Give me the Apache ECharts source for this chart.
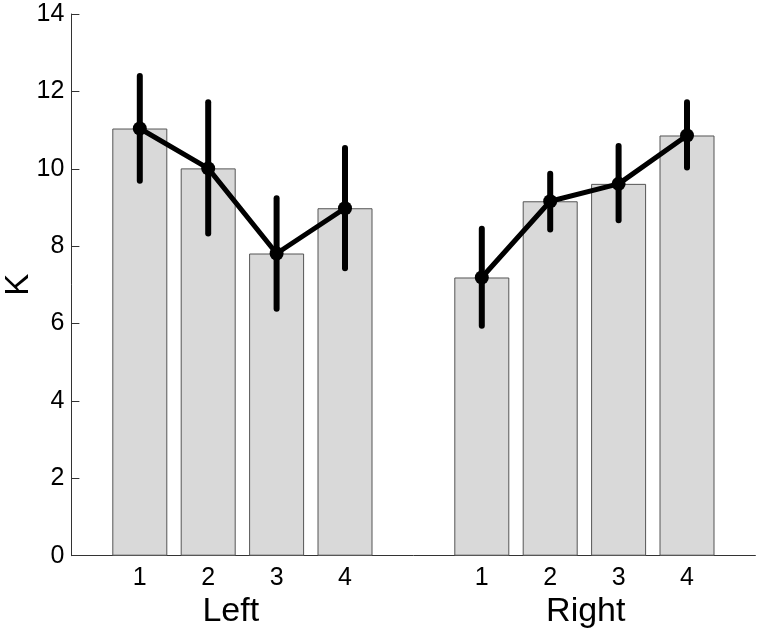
<!DOCTYPE html>
<html><head><meta charset="utf-8">
<script src="https://cdn.jsdelivr.net/npm/echarts@6/dist/echarts.min.js"></script>
<style>html,body{margin:0;padding:0;background:#fff}#c{width:762px;height:635px}</style>
</head><body><div id="c"></div>
<script>
// Positions on the x value axis (gap at 5 between groups)
const positions = [1, 2, 3, 4, 6, 7, 8, 9];
const tickLabels = ['1', '2', '3', '4', '1', '2', '3', '4'];
const groupLabels = ['Left', 'Right'];
const groupCenters = [2.33, 7.52];
const meanValues = [11.04, 10.01, 7.81, 8.98, 7.19, 9.16, 9.61, 10.86];
const errLow = [9.69, 8.33, 6.38, 7.43, 5.94, 8.43, 8.67, 10.03];
const errHigh = [12.40, 11.72, 9.24, 10.54, 8.45, 9.87, 10.59, 11.72];
const yTicks = [0, 2, 4, 6, 8, 10, 12, 14];

const barData = positions.map((p, i) => [p, meanValues[i]]);
const errData = positions.map((p, i) => [p, errLow[i], errHigh[i]]);
const leftLine = barData.slice(0, 4);
const rightLine = barData.slice(4);
const groupData = groupCenters.map((c, i) => [c, 0, groupLabels[i]]);

const FONT = 'Liberation Sans, Arial, Helvetica, sans-serif';
const chart = echarts.init(document.getElementById('c'));
chart.setOption({
  animation: false,
  backgroundColor: '#fff',
  grid: { left: 71.4, right: 6.6, top: 14, bottom: 79.3, containLabel: false, outerBoundsMode: 'none' },
  xAxis: {
    type: 'value', min: 0, max: 10, interval: 1,
    axisLine: { show: true, lineStyle: { color: '#333', width: 1 } },
    axisTick: { show: false },
    splitLine: { show: false },
    axisLabel: {
      fontFamily: FONT, fontSize: 25, color: '#000', margin: 10,
      formatter: v => { const i = positions.indexOf(v); return i >= 0 ? tickLabels[i] : ''; }
    }
  },
  yAxis: {
    type: 'value', min: 0, max: 14, interval: 2,
    name: 'K', nameLocation: 'middle', nameGap: 36, nameRotate: 90, nameMoveOverlap: false,
    nameTextStyle: { fontFamily: FONT, fontSize: 33, color: '#000' },
    axisLine: { show: true, lineStyle: { color: '#333', width: 1 } },
    axisTick: { show: true, inside: true, length: 8, lineStyle: { color: '#333' } },
    splitLine: { show: false },
    axisLabel: {
      fontFamily: FONT, fontSize: 25, color: '#000', margin: 7,
      formatter: v => yTicks.indexOf(v) >= 0 ? String(v) : ''
    }
  },
  series: [{
    type: 'bar', data: barData, barWidth: 55,
    itemStyle: { color: '#d9d9d9', borderColor: '#555', borderWidth: 1 },
    z: 1
  }, {
    type: 'custom', data: errData, z: 3,
    renderItem: (params, api) => {
      const x = api.value(0);
      const lo = api.coord([x, api.value(1)]);
      const hi = api.coord([x, api.value(2)]);
      return { type: 'line', shape: { x1: lo[0], y1: lo[1], x2: hi[0], y2: hi[1] },
        style: { stroke: '#000', lineWidth: 6, lineCap: 'round' } };
    }
  }, {
    type: 'line', data: leftLine, symbol: 'circle', symbolSize: 14, z: 4,
    lineStyle: { color: '#000', width: 5 }, itemStyle: { color: '#000' }
  }, {
    type: 'line', data: rightLine, symbol: 'circle', symbolSize: 14, z: 4,
    lineStyle: { color: '#000', width: 5 }, itemStyle: { color: '#000' }
  }, {
    type: 'custom', data: groupData, z: 5, silent: true, clip: false,
    encode: { x: 0, y: 1 },
    renderItem: (params, api) => {
      const p = api.coord([api.value(0), api.value(1)]);
      return { type: 'text', x: p[0], y: p[1] + 56,
        style: { text: groupData[params.dataIndex][2], fontFamily: FONT, fontSize: 34,
          fill: '#000', align: 'center', verticalAlign: 'middle' } };
    }
  }]
});
</script></body></html>
